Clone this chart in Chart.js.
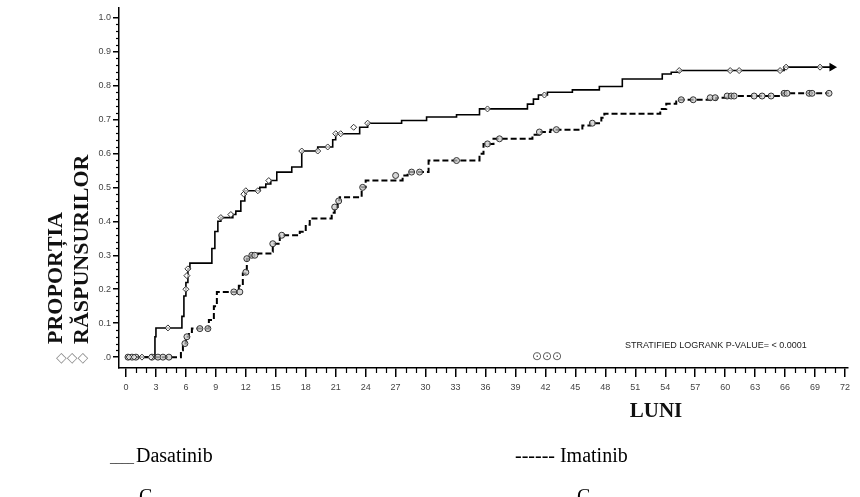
<!DOCTYPE html>
<html>
<head>
<meta charset="utf-8">
<script src="https://cdn.jsdelivr.net/npm/chart.js@4.4.1/dist/chart.umd.min.js"></script>
<style>
  html, body { margin: 0; padding: 0; background: #fff; }
  #wrap { width: 860px; height: 497px; position: relative; }
</style>
</head>
<body>
<div id="wrap"><canvas id="c" width="860" height="497"></canvas></div>
<script>
// ---- Data (months, proportion of responses) ----
const dasatinibTime = [0, 2.9, 3.0, 5.6, 5.8, 6.0, 6.2, 6.4, 8.6, 8.9, 9.2, 9.5, 10.7, 11.0, 11.5, 11.9, 13.4, 14.0, 14.5, 15.1, 16.6, 17.6, 19.2, 20.7, 21.0, 23.4, 24.2, 27.6, 30.1, 33.1, 35.4, 40.2, 40.8, 41.3, 42.2, 44.7, 47.4, 49.7, 53.7, 54.6, 55.4, 65.9, 70.7];
const dasatinibProp = [0, 0.06, 0.086, 0.12, 0.18, 0.22, 0.26, 0.277, 0.32, 0.37, 0.40, 0.411, 0.42, 0.43, 0.46, 0.49, 0.50, 0.51, 0.52, 0.545, 0.56, 0.607, 0.619, 0.64, 0.658, 0.677, 0.689, 0.697, 0.707, 0.714, 0.731, 0.745, 0.76, 0.772, 0.78, 0.787, 0.797, 0.819, 0.834, 0.839, 0.844, 0.854, 0.854];

const imatinibTime = [0, 5.5, 5.7, 6.0, 6.3, 6.6, 8.3, 8.8, 9.1, 11.3, 11.7, 12.1, 12.5, 13.2, 14.6, 14.7, 15.4, 17.4, 18.0, 18.4, 20.6, 20.9, 21.2, 21.4, 23.6, 24.0, 27.7, 28.2, 30.3, 35.4, 35.8, 36.8, 40.7, 41.4, 42.5, 45.7, 46.5, 47.6, 47.9, 53.5, 54.1, 55.1, 59.1, 60.4, 65.7, 70.4];
const imatinibProp = [0, 0.02, 0.04, 0.06, 0.074, 0.084, 0.109, 0.15, 0.192, 0.21, 0.246, 0.29, 0.30, 0.305, 0.31, 0.334, 0.359, 0.369, 0.39, 0.408, 0.425, 0.442, 0.462, 0.471, 0.50, 0.52, 0.535, 0.545, 0.579, 0.599, 0.628, 0.643, 0.655, 0.663, 0.67, 0.682, 0.689, 0.705, 0.717, 0.731, 0.746, 0.758, 0.764, 0.769, 0.777, 0.777];

const dasatinibCensorTime = [0.3, 0.8, 1.6, 2.5, 4.2, 6.0, 6.1, 6.2, 9.5, 10.5, 11.8, 12.0, 13.2, 14.3, 17.6, 19.2, 20.2, 21.0, 21.5, 22.8, 24.2, 36.2, 41.9, 55.4, 60.5, 61.4, 65.5, 66.1, 69.5];
const dasatinibCensorProp = [0, 0, 0, 0, 0.086, 0.20, 0.24, 0.26, 0.411, 0.42, 0.48, 0.49, 0.49, 0.52, 0.607, 0.607, 0.619, 0.658, 0.658, 0.677, 0.689, 0.731, 0.772, 0.844, 0.844, 0.844, 0.844, 0.854, 0.854];

const imatinibCensorTime = [0.2, 0.6, 1.0, 2.6, 3.2, 3.7, 4.3, 5.9, 6.1, 7.4, 8.2, 10.8, 11.4, 12.0, 12.1, 12.6, 12.9, 14.7, 15.6, 20.9, 21.3, 23.7, 27.0, 28.6, 29.4, 33.1, 36.2, 37.4, 41.4, 43.1, 46.7, 55.6, 56.8, 58.5, 59.0, 60.2, 60.6, 60.9, 62.9, 63.7, 64.6, 65.9, 66.2, 68.4, 68.7, 70.4];
const imatinibCensorProp = [0, 0, 0, 0, 0, 0, 0, 0.04, 0.06, 0.084, 0.084, 0.192, 0.192, 0.25, 0.29, 0.30, 0.30, 0.334, 0.359, 0.442, 0.46, 0.50, 0.535, 0.545, 0.545, 0.579, 0.628, 0.643, 0.663, 0.67, 0.689, 0.758, 0.758, 0.764, 0.764, 0.769, 0.769, 0.769, 0.769, 0.769, 0.769, 0.777, 0.777, 0.777, 0.777, 0.777];

const xTickValues = [0, 3, 6, 9, 12, 15, 18, 21, 24, 27, 30, 33, 36, 39, 42, 45, 48, 51, 54, 57, 60, 63, 66, 69, 72];
const yTickValues = [0, 0.1, 0.2, 0.3, 0.4, 0.5, 0.6, 0.7, 0.8, 0.9, 1.0];
const yTickLabels = ['.0', '0.1', '0.2', '0.3', '0.4', '0.5', '0.6', '0.7', '0.8', '0.9', '1.0'];

const seriesNames = ['Dasatinib', 'Imatinib'];
const yTitleLines = ['PROPORȚIA', 'RĂSPUNSURILOR'];
const xTitle = 'LUNI';
const pValueText = 'STRATIFIED LOGRANK P-VALUE= < 0.0001';

// ---- Build datasets ----
const toXY = (xs, ys) => xs.map((x, i) => ({ x: x, y: ys[i] }));

const extrasPlugin = {
  id: 'extras',
  afterDraw(chart) {
    const ctx = chart.ctx;
    const xs = chart.scales.x, ys = chart.scales.y;
    const area = chart.chartArea;
    ctx.save();
    // minor ticks x (each month)
    ctx.strokeStyle = '#000';
    ctx.lineWidth = 1.2;
    for (let m = 0; m <= 72; m++) {
      if (m % 3 === 0) continue;
      const px = Math.round(xs.getPixelForValue(m)) + 0.5;
      ctx.beginPath();
      ctx.moveTo(px, area.bottom);
      ctx.lineTo(px, area.bottom + 5);
      ctx.stroke();
    }
    // minor ticks y (every 0.02)
    for (let k = 0; k <= 50; k++) {
      if (k % 5 === 0) continue;
      const py = Math.round(ys.getPixelForValue(k * 0.02)) + 0.5;
      ctx.beginPath();
      ctx.moveTo(area.left - 3, py);
      ctx.lineTo(area.left, py);
      ctx.stroke();
    }
    // Y title (two rotated lines, bottom aligned)
    ctx.fillStyle = '#111';
    ctx.font = 'bold 22px "Liberation Serif", "Times New Roman", serif';
    ctx.textAlign = 'left';
    ctx.textBaseline = 'alphabetic';
    const baseX = [62, 88];
    yTitleLines.forEach((t, i) => {
      ctx.save();
      ctx.translate(baseX[i], 344);
      ctx.rotate(-Math.PI / 2);
      ctx.fillText(t, 0, 0);
      ctx.restore();
    });
    // X title
    ctx.font = 'bold 21px "Liberation Serif", "Times New Roman", serif';
    ctx.textAlign = 'center';
    ctx.fillText(xTitle, 656, 417);
    // p-value
    ctx.font = '9px "Liberation Sans", Arial, sans-serif';
    ctx.textAlign = 'left';
    ctx.fillStyle = '#222';
    ctx.fillText(pValueText, 625, 348);
    // stray symbols
    ctx.font = '14px "DejaVu Sans", sans-serif';
    ctx.fillStyle = '#8a8a8a';
    ctx.textBaseline = 'middle';
    ctx.fillText('◇◇◇', 56, 358);
    ctx.fillStyle = '#555';
    ctx.font = '12px "DejaVu Sans", sans-serif';
    ctx.textAlign = 'center';
    ctx.fillText('⊙⊙⊙', 547, 357);
    // legend text
    ctx.fillStyle = '#000';
    ctx.textBaseline = 'alphabetic';
    ctx.textAlign = 'left';
    ctx.font = '12px "Liberation Serif", "Times New Roman", serif';
    ctx.fillText('____', 110, 462);
    ctx.font = '20px "Liberation Serif", "Times New Roman", serif';
    ctx.fillText(seriesNames[0], 136, 462);
    ctx.fillText('------ ' + seriesNames[1], 515, 462);
    ctx.fillText('C', 139, 503);
    ctx.fillText('C', 577, 503);
    ctx.restore();
  }
};

const chart = new Chart(document.getElementById('c'), {
  type: 'scatter',
  data: {
    datasets: [
      {
        label: seriesNames[0],
        type: 'line',
        data: toXY(dasatinibTime, dasatinibProp),
        stepped: true,
        borderColor: '#000',
        borderWidth: 1.6,
        pointRadius: (c) => c.dataIndex === dasatinibTime.length - 1 ? 3.5 : 0,
        pointStyle: 'triangle',
        rotation: 90,
        pointBackgroundColor: '#000',
        pointBorderColor: '#000',
        fill: false,
        order: 2
      },
      {
        label: seriesNames[1],
        type: 'line',
        data: toXY(imatinibTime, imatinibProp),
        stepped: true,
        borderColor: '#000',
        borderWidth: 2,
        borderDash: [6, 3],
        pointRadius: 0,
        fill: false,
        order: 2
      },
      {
        label: seriesNames[0] + ' censored',
        data: toXY(dasatinibCensorTime, dasatinibCensorProp),
        pointStyle: 'rectRot',
        pointRadius: 3,
        borderWidth: 1,
        pointBorderColor: '#333',
        pointBackgroundColor: 'rgba(255,255,255,0.7)',
        order: 1
      },
      {
        label: seriesNames[1] + ' censored',
        data: toXY(imatinibCensorTime, imatinibCensorProp),
        pointStyle: 'circle',
        pointRadius: 3,
        borderWidth: 1,
        pointBorderColor: '#333',
        pointBackgroundColor: 'rgba(200,200,200,0.7)',
        order: 1
      }
    ]
  },
  options: {
    responsive: false,
    animation: false,
    devicePixelRatio: 1,
    layout: { padding: { top: 7, right: 12, left: 0, bottom: 0 } },
    plugins: {
      legend: { display: false },
      tooltip: { enabled: false },
      title: { display: false }
    },
    scales: {
      x: {
        type: 'linear',
        min: -0.7,
        max: 72.3,
        afterBuildTicks: (s) => { s.ticks = xTickValues.map(v => ({ value: v })); },
        afterFit: (s) => { s.height = 129; },
        ticks: {
          autoSkip: false,
          maxRotation: 0,
          padding: 5,
          color: '#444',
          font: { family: '"Liberation Sans", Arial, sans-serif', size: 9 },
          callback: (v) => String(v)
        },
        grid: { display: true, drawOnChartArea: false, drawTicks: true, tickLength: 9, color: '#000', lineWidth: 1.5 },
        border: { display: true, color: '#000', width: 1.5 }
      },
      y: {
        type: 'linear',
        min: -0.032,
        max: 1.03,
        afterBuildTicks: (s) => { s.ticks = yTickValues.map(v => ({ value: v })); },
        afterFit: (s) => { s.width = 119; },
        ticks: {
          autoSkip: false,
          padding: 2,
          color: '#444',
          font: { family: '"Liberation Sans", Arial, sans-serif', size: 9 },
          callback: (v) => { const i = yTickValues.findIndex(t => Math.abs(t - v) < 1e-6); return i >= 0 ? yTickLabels[i] : ''; }
        },
        grid: { display: true, drawOnChartArea: false, drawTicks: true, tickLength: 6, color: '#000', lineWidth: 1.5 },
        border: { display: true, color: '#000', width: 1.5 }
      }
    }
  },
  plugins: [extrasPlugin]
});
</script>
</body>
</html>
